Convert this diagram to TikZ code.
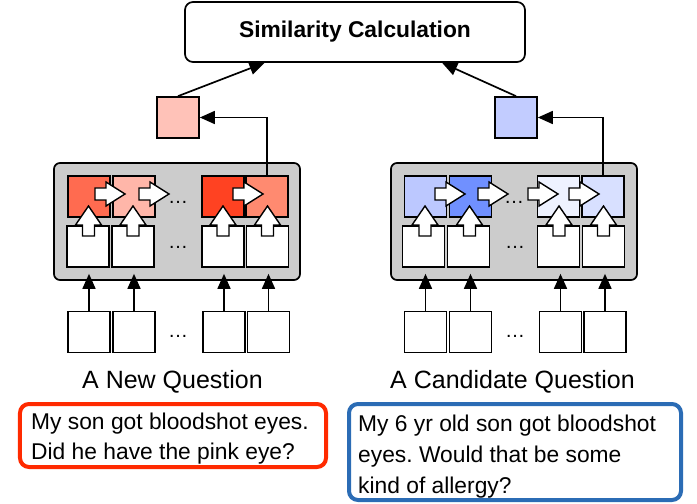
\documentclass[tikz,border=0pt]{standalone}
\usepackage{fontspec}
\setmainfont{Liberation Sans}
\usetikzlibrary{arrows.meta,calc}
\frenchspacing
\definecolor{grayfill}{HTML}{CCCCCC}
\definecolor{redA}{HTML}{FF6B50}
\definecolor{redB}{HTML}{FFB6A9}
\definecolor{redC}{HTML}{FF4222}
\definecolor{redD}{HTML}{FF8A70}
\definecolor{redTop}{HTML}{FFC2B8}
\definecolor{blueA}{HTML}{BCC8FF}
\definecolor{blueB}{HTML}{7090FF}
\definecolor{blueC}{HTML}{EEF2FF}
\definecolor{blueD}{HTML}{D8E0FF}
\definecolor{blueTop}{HTML}{C2CCFF}
\definecolor{qred}{HTML}{FF2A00}
\definecolor{qblue}{HTML}{2B6CB5}
\tikzset{
  cell/.style={draw=black, line width=1.7bp, minimum width=42bp, minimum height=41bp, inner sep=0pt, fill=white},
  panel/.style={draw=black, line width=1.7bp, fill=grayfill, rounded corners=6bp, inner sep=0pt},
  arr/.style={line width=1.7bp, -{Triangle[length=15bp,width=13bp]}},
  fatarrow/.style={draw=black, fill=white, line width=1.4bp, line join=miter},
  dotstext/.style={font=\fontsize{20bp}{20bp}\selectfont, anchor=base, inner sep=0pt},
  caption/.style={font=\fontsize{25bp}{30bp}\selectfont, anchor=base, inner sep=0pt},
  qtext/.style={font=\fontsize{22.8bp}{30bp}\selectfont, anchor=base west, align=left, inner sep=0pt},
  qbox/.style={line width=4bp, rounded corners=9bp, inner sep=0pt},
  hfat/.pic={\path[fatarrow] (0,-6) -- (11,-6) -- (11,-12) -- (30,0) -- (11,12) -- (11,6) -- (0,6) -- cycle;},
  vfat/.pic={\path[fatarrow] (-6,0) -- (-6,-11) -- (-13,-11) -- (0,-30) -- (13,-11) -- (6,-11) -- (6,0) -- cycle;}
}
\begin{document}
\begin{tikzpicture}[x=1bp,y=-1bp]
\useasboundingbox (0,0) rectangle (697,504);

% Similarity box
\node[draw=black, line width=1.7bp, rounded corners=8bp, minimum width=340bp, minimum height=60bp, inner sep=0pt,
      font=\fontsize{22.8bp}{26bp}\selectfont\bfseries] (sim) at (355,32) {Similarity Calculation};

% panels
\node[panel, minimum width=246bp, minimum height=117bp] (gl) at (177,221.5) {};
\node[panel, minimum width=246bp, minimum height=117bp] (gr) at (514,221.5) {};

% left top row
\node[cell, fill=redA] (lt1) at (89,196.5) {};
\node[cell, fill=redB] (lt2) at (134,196.5) {};
\node[cell, fill=redC] (lt3) at (223,196.5) {};
\node[cell, fill=redD] (lt4) at (267,196.5) {};
% left bottom row
\node[cell] (lb1) at (88,246.5) {};
\node[cell] (lb2) at (133,246.5) {};
\node[cell] (lb3) at (223,246.5) {};
\node[cell] (lb4) at (267.5,246.5) {};
% left inputs
\node[cell] (li1) at (89,332) {};
\node[cell] (li2) at (134,332) {};
\node[cell] (li3) at (224,332) {};
\node[cell] (li4) at (268.5,332) {};

% right top row
\node[cell, fill=blueA] (rt1) at (425.5,196.5) {};
\node[cell, fill=blueB] (rt2) at (470.5,196.5) {};
\node[cell, fill=blueC] (rt3) at (558.5,196.5) {};
\node[cell, fill=blueD] (rt4) at (603,196.5) {};
% right bottom row
\node[cell] (rb1) at (423.5,246.5) {};
\node[cell] (rb2) at (468.5,246.5) {};
\node[cell] (rb3) at (558.5,246.5) {};
\node[cell] (rb4) at (603.5,246.5) {};
% right inputs
\node[cell] (ri1) at (425.5,332) {};
\node[cell] (ri2) at (470.5,332) {};
\node[cell] (ri3) at (560.5,332) {};
\node[cell] (ri4) at (605,332) {};

% fat arrows left
\pic at (95,194) {hfat};
\pic at (139,194) {hfat};
\pic at (233,194) {hfat};
\pic at (88.5,236) {vfat};
\pic at (133,236) {vfat};
\pic at (223,236) {vfat};
\pic at (267.5,236) {vfat};
% fat arrows right
\pic at (435,194) {hfat};
\pic at (478,194) {hfat};
\pic at (528,194) {hfat};
\pic at (569,194) {hfat};
\pic at (425,236) {vfat};
\pic at (469.5,236) {vfat};
\pic at (559,236) {vfat};
\pic at (603.5,236) {vfat};

% dots
\node[dotstext] (ldt) at (178,204) {\ldots};
\node[dotstext] (ldb) at (178,249) {\ldots};
\node[dotstext] (ldi) at (178,337) {\ldots};
\node[dotstext] (rdt) at (514,204) {\ldots};
\node[dotstext] (rdb) at (515,249) {\ldots};
\node[dotstext] (rdi) at (515,337) {\ldots};

% input arrows
\foreach \n in {li1,li2,li3,li4}{
  \draw[arr] (\n.north) -- ($(\n.north |- gl.south)+(0,-7)$);
}
\foreach \n in {ri1,ri2,ri3,ri4}{
  \draw[arr] (\n.north) -- ($(\n.north |- gr.south)+(0,-7)$);
}

% output squares
\node[cell, fill=redTop] (ro) at (178,117.5) {};
\node[cell, fill=blueTop] (bo) at (516,117.5) {};

\draw[arr] (lt4.north) |- (ro.east);
\draw[arr] (rt4.north) |- (bo.east);

\draw[arr] (ro.north) -- ($(sim.south west)!0.235!(sim.south east)$);
\draw[arr] (bo.north) -- ($(sim.south west)!0.755!(sim.south east)$);

% captions
\node[caption] (capl) at (172.5,388) {A New Question};
\node[caption] (capr) at (512.5,388) {A Candidate Question};

% question boxes
\node[qbox, draw=qred, minimum width=306bp, minimum height=63bp] (qr) at (173,435.5) {};
\node[qbox, draw=qblue, minimum width=332bp, minimum height=96bp] (qb) at (515,452) {};
\node[qtext] (qrt) at (31,459) {My son got bloodshot eyes.\\Did he have the pink eye?};
\node[qtext, font=\fontsize{22.8bp}{31bp}\selectfont] (qbt) at (358,493) {My 6 yr old son got bloodshot\\eyes. Would that be some\\kind of allergy?};
\end{tikzpicture}
\end{document}
